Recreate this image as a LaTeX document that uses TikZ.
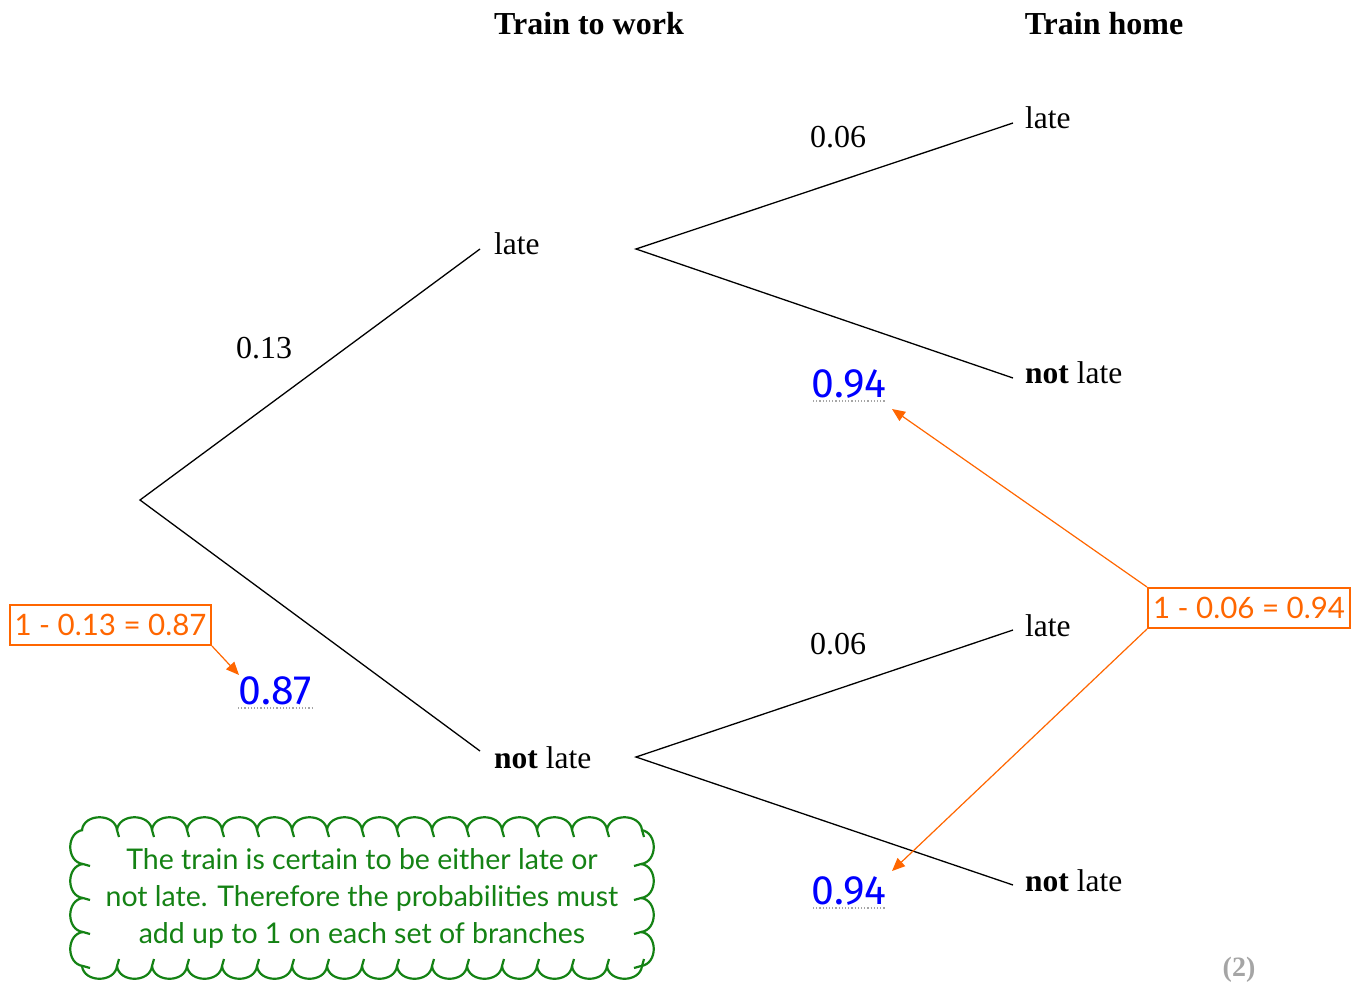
\documentclass[tikz,border=0pt]{standalone}
\usepackage{fontspec}
\setmainfont{Liberation Serif}
\newfontfamily\notefont{Lato}
\newfontfamily\handfont{Fira Sans}
\usetikzlibrary{arrows.meta}
\definecolor{orng}{RGB}{255,102,0}
\definecolor{grn}{RGB}{20,130,20}
\definecolor{blu}{RGB}{0,0,255}
\definecolor{gry}{RGB}{165,165,165}
\begin{document}
\begin{tikzpicture}[x=1pt,y=1pt,
  branch/.style={line width=1.3pt,black},
  lbl/.style={anchor=base west,inner sep=0pt,font=\fontsize{31.5}{36}\selectfont},
  prob/.style={inner sep=0pt,font=\fontsize{32}{36}\selectfont},
  title/.style={inner sep=0pt,font=\bfseries\fontsize{32}{36}\selectfont},
  calc/.style={draw=orng,line width=2pt,text=orng,inner sep=0pt,minimum height=40pt,font=\notefont\fontsize{29.5}{32}\selectfont},
  ans/.style={anchor=base,inner sep=0pt,text=blu,font=\handfont\fontsize{41}{44}\selectfont},
  uline/.style={gry,dotted,line width=1.2pt},
  oarrow/.style={orng,line width=1.2pt,-{Triangle[length=13pt,width=11pt]}},
  cloud/.style={grn,line width=2.2pt}
]
\useasboundingbox (0,0) rectangle (1352,-986);

% titles
\node[title] (t1) at (589,-24) {Train to work};
\node[title] (t2) at (1104,-24) {Train home};

% tree coordinates
\coordinate (r) at (140,-500);
\coordinate (a1) at (480,-249);
\coordinate (a2) at (480,-751);
\coordinate (b1) at (636,-249);
\coordinate (b2) at (636,-757);
\coordinate (c1) at (1013,-123);
\coordinate (c2) at (1013,-378);
\coordinate (c3) at (1013,-630);
\coordinate (c4) at (1013,-885);

\draw[branch] (a1) -- (r) -- (a2);
\draw[branch] (c1) -- (b1) -- (c2);
\draw[branch] (c3) -- (b2) -- (c4);

% outcome labels
\node[lbl] (l1) at (494,-254) {late};
\node[lbl] (l2) at (494,-768) {\textbf{not} late};
\node[lbl] (l3) at (1025,-128) {late};
\node[lbl] (l4) at (1025,-383) {\textbf{not} late};
\node[lbl] (l5) at (1025,-636) {late};
\node[lbl] (l6) at (1025,-891) {\textbf{not} late};

% given probabilities
\node[prob] (p1) at (264,-348) {0.13};
\node[prob] (p2) at (838,-137) {0.06};
\node[prob] (p3) at (838,-644) {0.06};

% answers
\node[ans] (n1) at (275,-704) {0.87};
\node[ans] (n2) at (849,-397) {0.94};
\node[ans] (n3) at (849,-904) {0.94};
\coordinate (u1a) at (238,-708); \coordinate (u1b) at (313,-708);
\coordinate (u2a) at (813,-401); \coordinate (u2b) at (886,-401);
\coordinate (u3a) at (813,-908); \coordinate (u3b) at (886,-908);
\draw[uline] (u1a) -- (u1b);
\draw[uline] (u2a) -- (u2b);
\draw[uline] (u3a) -- (u3b);

% calculation boxes
\node[calc,minimum width=201pt] (k1) at (110.5,-625) {1 - 0.13 = 0.87};
\node[calc,minimum width=202pt] (k2) at (1249,-608) {1 - 0.06 = 0.94};
\coordinate (e1) at (239,-675);
\coordinate (e2) at (892,-409);
\coordinate (e3) at (892,-871);
\draw[oarrow] (k1.south east) -- (e1);
\draw[oarrow] (k2.north west) -- (e2);
\draw[oarrow] (k2.south west) -- (e3);

% cloud
\begin{scope}[cloud]
  \foreach \i in {0,...,15}{
    \pgfmathsetmacro{\xa}{82+\i*35}
    \draw (\xa,-830) .. controls (\xa+2,-813) and (\xa+33,-813) .. (\xa+35,-830);
    \draw (\xa,-966) .. controls (\xa+2,-983) and (\xa+33,-983) .. (\xa+35,-966);
    \draw (\xa+35,-830) -- (\xa+37,-837);
    \draw (\xa+35,-966) -- (\xa+37,-959);
  }
  \foreach \j in {0,...,3}{
    \pgfmathsetmacro{\ya}{-830-\j*34}
    \draw (83,\ya) .. controls (66,\ya-2) and (66,\ya-32) .. (83,\ya-34);
    \draw (641,\ya) .. controls (658,\ya-2) and (658,\ya-32) .. (641,\ya-34);
    \draw (83,\ya-34) -- (90,\ya-36);
    \draw (641,\ya-34) -- (634,\ya-36);
  }
\end{scope}
\node[text=grn,align=center,inner sep=0pt,font=\notefont\fontsize{28.5}{37}\selectfont] (note) at (362,-898)
  {The train is certain to be either late or\\not late. Therefore the probabilities must\\add up to 1 on each set of branches};

% marks
\node[text=gry,inner sep=0pt,font=\bfseries\fontsize{28}{30}\selectfont] (mk) at (1239,-970) {(2)};
\end{tikzpicture}
\end{document}
